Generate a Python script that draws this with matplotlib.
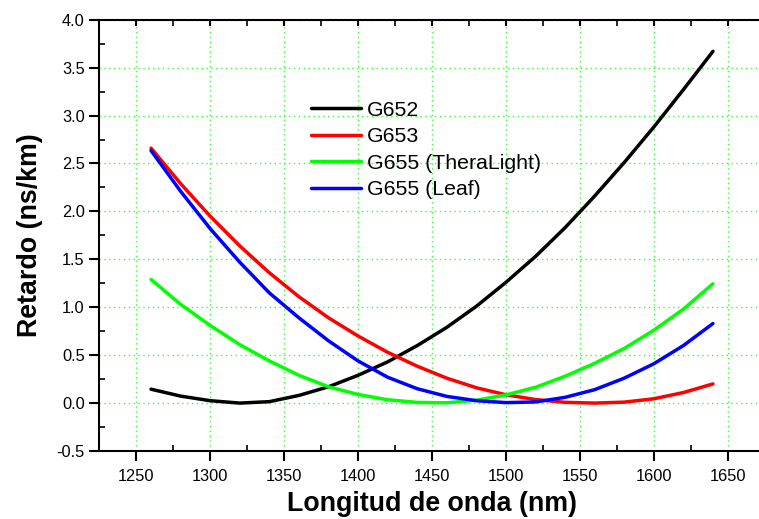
import numpy as np
import matplotlib
matplotlib.use("Agg")
import matplotlib.pyplot as plt
from matplotlib.ticker import MultipleLocator, FuncFormatter

plt.rcParams['font.family'] = ['Liberation Sans', 'DejaVu Sans']

# Retardo de grupo frente a longitud de onda, valores en ns/km
wl = [1260, 1280, 1300, 1320, 1340, 1360, 1380, 1400, 1420, 1440,
      1460, 1480, 1500, 1520, 1540, 1560, 1580, 1600, 1620, 1640]
g652 = [0.145, 0.073, 0.025, 0.0, 0.015, 0.08, 0.17, 0.29, 0.43, 0.60,
        0.79, 1.01, 1.26, 1.53, 1.83, 2.16, 2.51, 2.88, 3.27, 3.67]
g653 = [2.66, 2.29, 1.95, 1.64, 1.36, 1.11, 0.89, 0.70, 0.53, 0.385,
        0.26, 0.16, 0.087, 0.037, 0.008, 0.0, 0.01, 0.045, 0.11, 0.20]
g655_thera = [1.29, 1.03, 0.81, 0.61, 0.44, 0.29, 0.17, 0.09, 0.035, 0.007,
              0.003, 0.03, 0.085, 0.165, 0.28, 0.415, 0.57, 0.76, 0.98, 1.245]
g655_leaf = [2.635, 2.21, 1.82, 1.47, 1.15, 0.89, 0.65, 0.44, 0.27, 0.15,
             0.07, 0.025, 0.005, 0.012, 0.06, 0.14, 0.26, 0.41, 0.60, 0.83]

series = [(g652, "black", "G652"),
          (g653, "red", "G653"),
          (g655_thera, "#00ff00", "G655 (TheraLight)"),
          (g655_leaf, "blue", "G655 (Leaf)")]

fig = plt.figure(figsize=(7.59, 5.19), dpi=100)
ax = fig.add_axes([0.1308, 0.131, 0.8767, 0.831])

for vals, col, lab in series:
    ax.plot(wl, vals, color=col, lw=2.5, label=lab,
            solid_capstyle="round", solid_joinstyle="round")

ax.set_xlim(1225, 1675)
ax.set_ylim(-0.5, 4.0)
ax.xaxis.set_major_locator(MultipleLocator(50))
ax.xaxis.set_minor_locator(MultipleLocator(25))
ax.yaxis.set_major_locator(MultipleLocator(0.5))
ax.yaxis.set_minor_locator(MultipleLocator(0.25))
ax.yaxis.set_major_formatter(FuncFormatter(lambda v, p: "%.1f" % v))

ax.grid(True, which="major", color="#33ff33", linestyle=(0, (1, 2.5)), lw=1)
ax.set_axisbelow(True)

for s in ["left", "bottom", "top"]:
    ax.spines[s].set_linewidth(1.5)
ax.spines["right"].set_visible(False)

ax.tick_params(axis="both", which="major", direction="out", length=7, width=1.5,
               labelsize=11.8, pad=3.5)
ax.tick_params(axis="both", which="minor", direction="in", length=4, width=1.2)
ax.tick_params(axis="x", which="major", pad=6)
# eje superior: solo marcas cortas hacia dentro
ax.tick_params(axis="x", which="both", top=True)
for t in ax.xaxis.get_major_ticks():
    t.tick2line.set_marker(3)
    t.tick2line.set_markersize(4)

ax.set_xlabel("Longitud de onda (nm)", fontsize=19.3, fontweight="bold", labelpad=5)
ax.set_ylabel("Retardo (ns/km)", fontsize=19.3, fontweight="bold", labelpad=10)

ax.legend(loc="upper left", bbox_to_anchor=(0.2895, 0.857), frameon=False,
          fontsize=15.3, handlelength=2.35, handletextpad=0.28, labelspacing=0.36)

fig.savefig("out.png", dpi=100)
